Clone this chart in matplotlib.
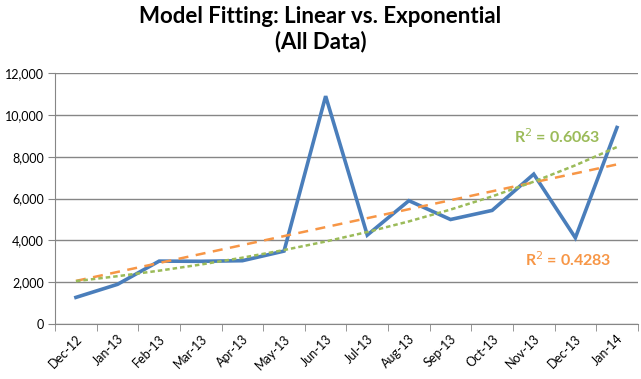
import numpy as np
import matplotlib.pyplot as plt
from matplotlib.ticker import FuncFormatter

# ---- Data ---- #
months = ["Dec-12", "Jan-13", "Feb-13", "Mar-13", "Apr-13", "May-13", "Jun-13",
          "Jul-13", "Aug-13", "Sep-13", "Oct-13", "Nov-13", "Dec-13", "Jan-14"]
values = [1275, 1900, 3010, 3000, 3030, 3490, 10900,
          4255, 5900, 5000, 5435, 7170, 4125, 9400]
r2_linear = "0.4283"
r2_expon = "0.6063"

blue = "#4A7EBB"
orange = "#F79646"
green = "#9BBB59"
gridc = "#868686"

plt.rcParams['font.family'] = ['Lato', 'DejaVu Sans']

x = np.arange(len(months))
y = np.array(values, dtype=float)

# trendlines (least squares, like Excel)
lin = np.polyfit(x, y, 1)
ylin = np.polyval(lin, x)
ex = np.polyfit(x, np.log(y), 1)
yexp = np.exp(np.polyval(ex, x))

fig = plt.figure(figsize=(6.41, 3.79), dpi=100)
ax = fig.add_axes([0.086, 0.145, 0.909, 0.662])

ax.plot(x, y, color=blue, lw=2.6, zorder=3, solid_joinstyle='miter')
ax.plot(x, ylin, color=orange, lw=1.8, ls=(0, (4, 3)), zorder=4)
ax.plot(x, yexp, color=green, lw=1.8, ls=(0, (1.8, 1.2)), zorder=4)

ax.set_xlim(-0.5, len(months) - 0.5)
ax.set_ylim(0, 12000)
ax.set_yticks(np.arange(0, 12001, 2000))
ax.yaxis.set_major_formatter(FuncFormatter(lambda v, p: f"{int(v):,}"))
ax.grid(axis='y', color=gridc, lw=1.0)
ax.set_axisbelow(True)

ax.set_xticks(x)
ax.set_xticklabels(months, rotation=45, ha='right', rotation_mode='anchor')
ax.set_xticks(np.arange(-0.5, len(months), 1), minor=True)
ax.tick_params(axis='x', which='major', length=0, labelsize=9, pad=6)
ax.tick_params(axis='x', which='minor', length=5, color=gridc, direction='out')
ax.tick_params(axis='y', length=5, color=gridc, labelsize=9, pad=3)

for s in ['top', 'right']:
    ax.spines[s].set_visible(False)
ax.spines['left'].set_color(gridc)
ax.spines['bottom'].set_color(gridc)

ax.text(0.861, 0.745, "R$^2$ = " + r2_expon, transform=ax.transAxes,
        color=green, fontsize=11.5, fontweight='bold', ha='center', va='center')
ax.text(0.88, 0.255, "R$^2$ = " + r2_linear, transform=ax.transAxes,
        color=orange, fontsize=11.5, fontweight='bold', ha='center', va='center')

fig.text(0.5, 0.985, "Model Fitting: Linear vs. Exponential\n(All Data)",
         ha='center', va='top', fontsize=16, fontweight='bold', linespacing=1.25)

fig.savefig("out.png", dpi=100)
